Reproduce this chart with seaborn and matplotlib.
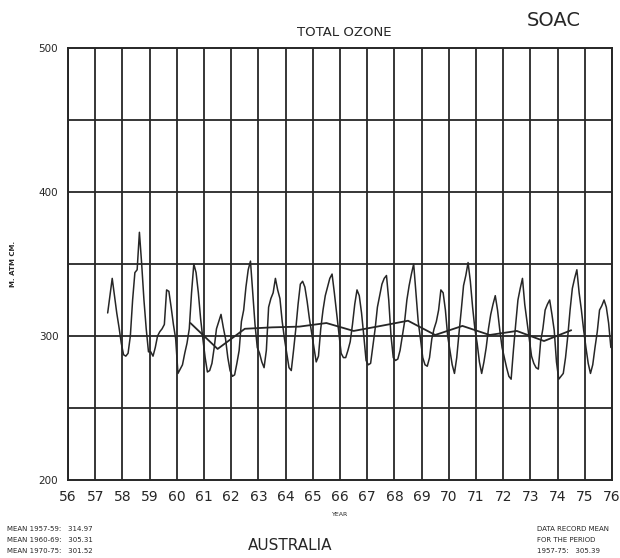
import numpy as np
import pandas as pd
import matplotlib
matplotlib.use("Agg")
import matplotlib.pyplot as plt
import seaborn as sns

# Monthly total ozone (milli-atm-cm), Australia; 1957 record starts in June
ozone_1957 = [316, 328, 340, 328, 316, 306, 295]
ozone_1958 = [287, 286, 288, 300, 325, 344, 346, 372, 350, 325, 305, 289]
ozone_1959 = [289, 286, 292, 300, 303, 305, 308, 332, 331, 320, 308, 298]
ozone_1960 = [274, 277, 280, 288, 295, 305, 330, 350, 344, 330, 312, 298]
ozone_1961 = [285, 275, 276, 281, 292, 305, 310, 315, 306, 298, 285, 276]
ozone_1962 = [272, 273, 281, 290, 310, 318, 334, 346, 352, 330, 308, 292]
ozone_1963 = [288, 282, 278, 290, 320, 326, 330, 340, 332, 326, 310, 298]
ozone_1964 = [288, 278, 276, 290, 305, 322, 336, 338, 334, 324, 312, 302]
ozone_1965 = [292, 282, 286, 305, 318, 328, 334, 340, 343, 330, 316, 302]
ozone_1966 = [288, 285, 285, 290, 296, 308, 322, 332, 328, 316, 300, 283]
ozone_1967 = [280, 281, 293, 305, 320, 328, 336, 340, 342, 325, 300, 285]
ozone_1968 = [283, 284, 290, 300, 310, 325, 335, 343, 350, 330, 310, 298]
ozone_1969 = [285, 280, 279, 285, 298, 305, 310, 318, 332, 330, 318, 300]
ozone_1970 = [290, 280, 274, 285, 302, 318, 335, 342, 351, 338, 320, 305]
ozone_1971 = [295, 282, 274, 282, 292, 305, 315, 322, 328, 318, 304, 292]
ozone_1972 = [285, 278, 272, 270, 290, 308, 325, 333, 340, 322, 310, 298]
ozone_1973 = [286, 281, 278, 277, 296, 305, 318, 322, 325, 315, 304, 282]
ozone_1974 = [270, 272, 274, 285, 300, 318, 333, 340, 346, 330, 318, 304]
ozone_1975 = [292, 281, 274, 280, 292, 303, 318, 321, 325, 320, 309, 292]

# Annual means, plotted at mid-year
mean_years = [1960, 1961, 1962, 1963, 1964, 1965, 1966, 1967,
              1968, 1969, 1970, 1971, 1972, 1973, 1974]
annual_mean = [309, 291, 305, 306, 306.5, 309, 303.5, 307,
               310.6, 300.7, 307, 300.7, 303.5, 296.5, 304]

year_ticks = list(range(56, 77))
y_ticks = [200, 300, 400, 500]
y_grid = [250, 300, 350, 400, 450]

period_means = ["MEAN 1957-59:   314.97",
                "MEAN 1960-69:   305.31",
                "MEAN 1970-75:   301.52"]
record_mean = ["DATA RECORD MEAN", "FOR THE PERIOD", "1957-75:   305.39"]

# Build the monthly table
series = {1957: ozone_1957, 1958: ozone_1958, 1959: ozone_1959,
          1960: ozone_1960, 1961: ozone_1961, 1962: ozone_1962,
          1963: ozone_1963, 1964: ozone_1964, 1965: ozone_1965,
          1966: ozone_1966, 1967: ozone_1967, 1968: ozone_1968,
          1969: ozone_1969, 1970: ozone_1970, 1971: ozone_1971,
          1972: ozone_1972, 1973: ozone_1973, 1974: ozone_1974,
          1975: ozone_1975}
rows = []
for yr, vals in series.items():
    first_month = 12 - len(vals)
    for i, v in enumerate(vals):
        m = first_month + i
        rows.append({"t": (yr - 1900) + (m + 0.5) / 12.0, "ozone": v})
monthly = pd.DataFrame(rows)
means = pd.DataFrame({"t": [y - 1900 + 0.5 for y in mean_years],
                      "ozone": annual_mean})

sns.set_theme(style="white")
plt.rcParams["font.family"] = ["DejaVu Sans"]

ink = "#262626"
fig = plt.figure(figsize=(6.2, 5.58), dpi=100)
ax = fig.add_axes([0.1097, 0.1398, 0.8774, 0.7742])

for x in year_ticks:
    ax.axvline(x, color=ink, lw=1.3, zorder=1)
for y in y_grid:
    ax.axhline(y, color=ink, lw=1.3, zorder=1)

sns.lineplot(data=monthly, x="t", y="ozone", ax=ax, color=ink, lw=1.1,
             estimator=None, sort=True, zorder=3)
sns.lineplot(data=means, x="t", y="ozone", ax=ax, color=ink, lw=1.3,
             estimator=None, sort=True, zorder=3)

ax.set_xlim(56, 76)
ax.set_ylim(200, 500)
ax.set_xticks(year_ticks)
ax.set_xticklabels([str(v) for v in year_ticks], fontsize=10, color=ink)
ax.set_yticks(y_ticks)
ax.set_yticklabels([str(v) for v in y_ticks], fontsize=7.5, color=ink)
ax.tick_params(axis="x", direction="inout", length=6, width=1.2, pad=4, colors=ink)
ax.tick_params(axis="y", direction="out", length=5, width=1.2, pad=2, colors=ink)
for s in ax.spines.values():
    s.set_color(ink)
    s.set_linewidth(1.4)
ax.set_xlabel("YEAR", fontsize=4.5, color=ink, labelpad=6)
ax.set_ylabel("M. ATM CM.", fontsize=5, color=ink, labelpad=16, fontweight="bold")

fig.text(0.556, 0.941, "TOTAL OZONE", fontsize=9.5, ha="center", va="center", color=ink)
fig.text(0.893, 0.964, "SOAC", fontsize=14, ha="center", va="center", color=ink)
fig.text(0.468, 0.022, "AUSTRALIA", fontsize=11, ha="center", va="center", color=ink)
for i, line in enumerate(period_means):
    fig.text(0.012, 0.052 - i * 0.0195, line, fontsize=5, ha="left", va="center", color=ink)
for i, line in enumerate(record_mean):
    fig.text(0.866, 0.052 - i * 0.0195, line, fontsize=5, ha="left", va="center", color=ink)

fig.savefig("out.png", dpi=100)
